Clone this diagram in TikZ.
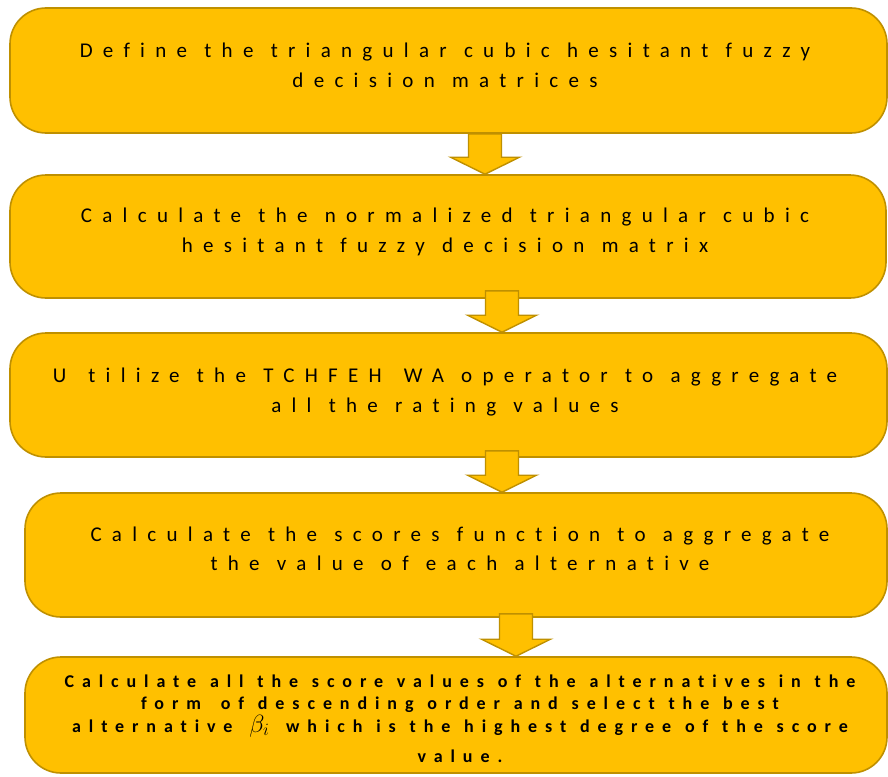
\documentclass[tikz,border=0pt]{standalone}
\usepackage{fontspec}
\setmainfont{Carlito}
\newfontfamily\boxfont[LetterSpace=49,Ligatures=NoCommon,WordSpace=1.15]{Carlito}
\newfontfamily\lastfont[LetterSpace=44,Ligatures=NoCommon,WordSpace=1.15]{Carlito}
\newcommand\stepfont{\boxfont\fontsize{21}{25}\selectfont}
\newcommand\finalfont{\lastfont\bfseries\fontsize{18}{21}\selectfont}
\usetikzlibrary{calc}
\definecolor{boxfill}{HTML}{FFC000}
\definecolor{boxedge}{HTML}{BF9000}
\tikzset{
  stepbox/.style={draw=boxedge, fill=boxfill, line width=1.6pt, rounded corners=36pt, inner sep=0pt},
  steptext/.style={anchor=base, inner sep=0pt, font=\stepfont, text=black},
  lasttext/.style={anchor=base, inner sep=0pt, font=\finalfont, text=black},
  blockarrow/.style={draw=boxedge, fill=boxfill, line width=1.4pt, line join=miter}
}
% #1 centre x (pt), #2 upper box, #3 lower box, #4 overlap into upper box (pt)
\newcommand\blkarrow[4]{%
  \path[blockarrow] let \p1=(#2.south), \p2=(#3.north) in
    ({#1pt-16.5pt},{\y1+#4pt}) -- ({#1pt-16.5pt},{\y2+17pt}) -- ({#1pt-34.5pt},{\y2+17pt})
    -- ({#1pt},{\y2}) -- ({#1pt+34.5pt},{\y2+17pt}) -- ({#1pt+16.5pt},{\y2+17pt})
    -- ({#1pt+16.5pt},{\y1+#4pt}) -- cycle;}
\begin{document}
\begin{tikzpicture}[x=1pt,y=-1pt]
\useasboundingbox (0,0) rectangle (888,776);
\fill[white] (0,0) rectangle (888,776);

\node[stepbox, minimum width=877pt, minimum height=125pt] (b1) at (448.5,70.5) {};
\node[stepbox, minimum width=876pt, minimum height=123pt] (b2) at (448,236.5) {};
\node[stepbox, minimum width=877pt, minimum height=124pt] (b3) at (448.5,395) {};
\node[stepbox, minimum width=862pt, minimum height=124pt] (b4) at (456,555) {};
\node[stepbox, minimum width=862pt, minimum height=116pt] (b5) at (456,715) {};

\blkarrow{485}{b1}{b2}{0}
\blkarrow{502}{b2}{b3}{8}
\blkarrow{502}{b3}{b4}{7}
\blkarrow{516}{b4}{b5}{4}

\node[steptext] (t1a) at (445,57) {Define the triangular cubic hesitant fuzzy};
\node[steptext] (t1b) at (445,87) {decision matrices};
\node[steptext] (t2a) at (445,222) {Calculate the normalized triangular cubic};
\node[steptext] (t2b) at (445,252) {hesitant fuzzy decision matrix};
\node[steptext] (t3a) at (445,382) {U\kern22pt tilize the TCHFEH\kern22pt WA operator to aggregate};
\node[steptext] (t3b) at (445,412) {all the rating values};
\node[steptext] (t4a) at (460,541) {Calculate the scores function to aggregate};
\node[steptext] (t4b) at (460,570) {the value of each alternative};
\node[lasttext] (t5a) at (460,687) {Calculate all the score values of the alternatives in the};
\node[lasttext] (t5b) at (460,709) {form\kern6pt\ of descending order and select the best};
\node[lasttext] (t5c) at (460,732) {alternative \,{\fontsize{25}{25}\selectfont$\beta_i$}\, which is the highest degree of the score};
\node[lasttext] (t5d) at (460,762) {value.};
\end{tikzpicture}
\end{document}
